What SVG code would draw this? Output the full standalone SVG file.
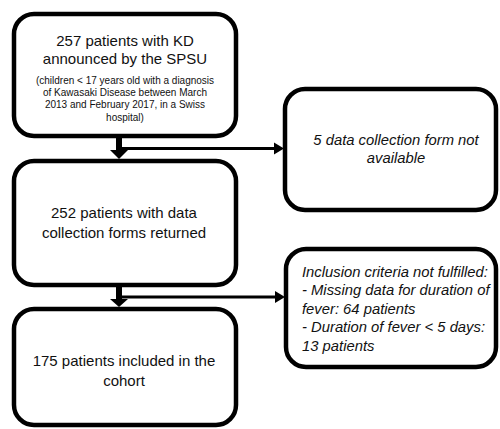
<svg xmlns="http://www.w3.org/2000/svg" width="500" height="429" viewBox="0 0 500 429">
<style>
.box{fill:#fff;stroke:#000;stroke-width:4.5}
.t{font-family:"Liberation Sans",Arial,sans-serif;fill:#111;text-anchor:middle}
.big{font-size:15px}
.small{font-size:10px}
.it{font-family:"Liberation Sans",Arial,sans-serif;font-style:italic;font-size:14.8px;fill:#111}
.ln{stroke:#000;fill:none}
</style>
<rect width="500" height="429" fill="#fff"/>
<g id="connectors">
<line class="ln" x1="119" y1="138" x2="119" y2="152" stroke-width="6"/>
<polygon points="110,150 128,150 119,159"/>
<line class="ln" x1="122" y1="148.5" x2="276" y2="148.5" stroke-width="3"/>
<polygon points="274,142.5 284,148.5 274,154.5"/>
<line class="ln" x1="119" y1="287" x2="119" y2="300" stroke-width="6"/>
<polygon points="110,299 128,299 119,307"/>
<line class="ln" x1="122" y1="297" x2="277" y2="297" stroke-width="3"/>
<polygon points="275,291 285,297 275,303"/>
</g>
<g id="n1">
<rect class="box" x="14" y="14" width="222" height="122" rx="20"/>
<text class="t big" x="125" y="46">257 patients with KD</text>
<text class="t big" x="125" y="64">announced by the SPSU</text>
<text class="t small" x="125" y="84">(children &lt; 17 years old with a diagnosis</text>
<text class="t small" x="125" y="96">of Kawasaki Disease between March</text>
<text class="t small" x="125" y="108">2013 and February 2017, in a Swiss</text>
<text class="t small" x="125" y="121">hospital)</text>
</g>
<g id="n2">
<rect class="box" x="285" y="89" width="211" height="121" rx="20"/>
<text class="it" x="396" y="145" text-anchor="middle">5 data collection form not</text>
<text class="it" x="396" y="163" text-anchor="middle">available</text>
</g>
<g id="n3">
<rect class="box" x="14" y="161" width="222" height="124" rx="20"/>
<text class="t big" x="124" y="218">252 patients with data</text>
<text class="t big" x="124" y="238">collection forms returned</text>
</g>
<g id="n4">
<rect class="box" x="286" y="249" width="210" height="118" rx="20"/>
<text class="it" x="302" y="277">Inclusion criteria not fulfilled:</text>
<text class="it" x="302" y="295">- Missing data for duration of</text>
<text class="it" x="302" y="314">fever: 64 patients</text>
<text class="it" x="302" y="332">- Duration of fever &lt; 5 days:</text>
<text class="it" x="302" y="351">13 patients</text>
</g>
<g id="n5">
<rect class="box" x="14" y="309" width="222" height="116" rx="20"/>
<text class="t big" x="124" y="366">175 patients included in the</text>
<text class="t big" x="124" y="386">cohort</text>
</g>
</svg>
